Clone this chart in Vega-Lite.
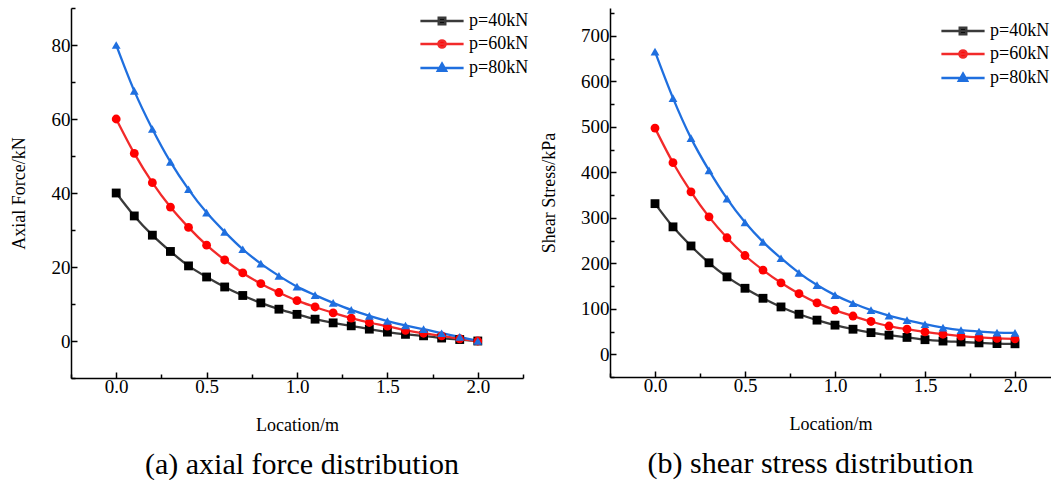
{
  "$schema": "https://vega.github.io/schema/vega-lite/v6.json",
  "padding": {"left": 10, "top": 7, "right": 0, "bottom": 0},
  "background": "white",
  "config": {
    "font": "Liberation Serif",
    "view": {"stroke": null},
    "axis": {"grid": false, "domainColor": "black", "domainWidth": 1.5, "tickColor": "black", "tickWidth": 1.5, "labelColor": "black", "titleColor": "black", "labelFont": "Liberation Serif", "titleFont": "Liberation Serif", "titleFontSize": 18, "titleFontWeight": "normal", "labelOverlap": false, "labelFlush": false, "labelPadding": 7},
    "legend": {"labelFontSize": 18, "labelFont": "Liberation Serif", "labelColor": "black", "title": null},
    "title": {"font": "Liberation Serif"}
  },
  "datasets": {
    "axial": [
      {"x":0,"p":"p=40kN","v":40},{"x":0.1,"p":"p=40kN","v":33.8},{"x":0.2,"p":"p=40kN","v":28.6},{"x":0.3,"p":"p=40kN","v":24.2},{"x":0.4,"p":"p=40kN","v":20.3},{"x":0.5,"p":"p=40kN","v":17.3},{"x":0.6,"p":"p=40kN","v":14.6},{"x":0.7,"p":"p=40kN","v":12.3},{"x":0.8,"p":"p=40kN","v":10.3},{"x":0.9,"p":"p=40kN","v":8.6},{"x":1.0,"p":"p=40kN","v":7.2},{"x":1.1,"p":"p=40kN","v":5.9},{"x":1.2,"p":"p=40kN","v":4.9},{"x":1.3,"p":"p=40kN","v":4.1},{"x":1.4,"p":"p=40kN","v":3.2},{"x":1.5,"p":"p=40kN","v":2.4},{"x":1.6,"p":"p=40kN","v":1.8},{"x":1.7,"p":"p=40kN","v":1.4},{"x":1.8,"p":"p=40kN","v":0.8},{"x":1.9,"p":"p=40kN","v":0.4},{"x":2.0,"p":"p=40kN","v":0},
      {"x":0,"p":"p=60kN","v":60},{"x":0.1,"p":"p=60kN","v":50.7},{"x":0.2,"p":"p=60kN","v":42.8},{"x":0.3,"p":"p=60kN","v":36.2},{"x":0.4,"p":"p=60kN","v":30.7},{"x":0.5,"p":"p=60kN","v":25.9},{"x":0.6,"p":"p=60kN","v":21.9},{"x":0.7,"p":"p=60kN","v":18.4},{"x":0.8,"p":"p=60kN","v":15.5},{"x":0.9,"p":"p=60kN","v":13.1},{"x":1.0,"p":"p=60kN","v":10.9},{"x":1.1,"p":"p=60kN","v":9.2},{"x":1.2,"p":"p=60kN","v":7.6},{"x":1.3,"p":"p=60kN","v":6.2},{"x":1.4,"p":"p=60kN","v":5.0},{"x":1.5,"p":"p=60kN","v":4.0},{"x":1.6,"p":"p=60kN","v":2.9},{"x":1.7,"p":"p=60kN","v":2.1},{"x":1.8,"p":"p=60kN","v":1.4},{"x":1.9,"p":"p=60kN","v":0.6},{"x":2.0,"p":"p=60kN","v":0},
      {"x":0,"p":"p=80kN","v":80},{"x":0.1,"p":"p=80kN","v":67.6},{"x":0.2,"p":"p=80kN","v":57.3},{"x":0.3,"p":"p=80kN","v":48.4},{"x":0.4,"p":"p=80kN","v":41.0},{"x":0.5,"p":"p=80kN","v":34.7},{"x":0.6,"p":"p=80kN","v":29.5},{"x":0.7,"p":"p=80kN","v":24.8},{"x":0.8,"p":"p=80kN","v":20.9},{"x":0.9,"p":"p=80kN","v":17.6},{"x":1.0,"p":"p=80kN","v":14.7},{"x":1.1,"p":"p=80kN","v":12.4},{"x":1.2,"p":"p=80kN","v":10.3},{"x":1.3,"p":"p=80kN","v":8.4},{"x":1.4,"p":"p=80kN","v":6.8},{"x":1.5,"p":"p=80kN","v":5.4},{"x":1.6,"p":"p=80kN","v":4.2},{"x":1.7,"p":"p=80kN","v":3.2},{"x":1.8,"p":"p=80kN","v":2.1},{"x":1.9,"p":"p=80kN","v":1.1},{"x":2.0,"p":"p=80kN","v":0}
    ],
    "shear": [
      {"x":0,"p":"p=40kN","v":331},{"x":0.1,"p":"p=40kN","v":280},{"x":0.2,"p":"p=40kN","v":238},{"x":0.3,"p":"p=40kN","v":201},{"x":0.4,"p":"p=40kN","v":170},{"x":0.5,"p":"p=40kN","v":145},{"x":0.6,"p":"p=40kN","v":123},{"x":0.7,"p":"p=40kN","v":104},{"x":0.8,"p":"p=40kN","v":88},{"x":0.9,"p":"p=40kN","v":75},{"x":1.0,"p":"p=40kN","v":64},{"x":1.1,"p":"p=40kN","v":55},{"x":1.2,"p":"p=40kN","v":47.5},{"x":1.3,"p":"p=40kN","v":42},{"x":1.4,"p":"p=40kN","v":37},{"x":1.5,"p":"p=40kN","v":32},{"x":1.6,"p":"p=40kN","v":29},{"x":1.7,"p":"p=40kN","v":27},{"x":1.8,"p":"p=40kN","v":25},{"x":1.9,"p":"p=40kN","v":23.5},{"x":2.0,"p":"p=40kN","v":23},
      {"x":0,"p":"p=60kN","v":497},{"x":0.1,"p":"p=60kN","v":421},{"x":0.2,"p":"p=60kN","v":357},{"x":0.3,"p":"p=60kN","v":302},{"x":0.4,"p":"p=60kN","v":256},{"x":0.5,"p":"p=60kN","v":217},{"x":0.6,"p":"p=60kN","v":185},{"x":0.7,"p":"p=60kN","v":157},{"x":0.8,"p":"p=60kN","v":133},{"x":0.9,"p":"p=60kN","v":113},{"x":1.0,"p":"p=60kN","v":97},{"x":1.1,"p":"p=60kN","v":84},{"x":1.2,"p":"p=60kN","v":72},{"x":1.3,"p":"p=60kN","v":62},{"x":1.4,"p":"p=60kN","v":55},{"x":1.5,"p":"p=60kN","v":49},{"x":1.6,"p":"p=60kN","v":44},{"x":1.7,"p":"p=60kN","v":40},{"x":1.8,"p":"p=60kN","v":37},{"x":1.9,"p":"p=60kN","v":35},{"x":2.0,"p":"p=60kN","v":34},
      {"x":0,"p":"p=80kN","v":665},{"x":0.1,"p":"p=80kN","v":563},{"x":0.2,"p":"p=80kN","v":475},{"x":0.3,"p":"p=80kN","v":404},{"x":0.4,"p":"p=80kN","v":342},{"x":0.5,"p":"p=80kN","v":290},{"x":0.6,"p":"p=80kN","v":247},{"x":0.7,"p":"p=80kN","v":211},{"x":0.8,"p":"p=80kN","v":179},{"x":0.9,"p":"p=80kN","v":152},{"x":1.0,"p":"p=80kN","v":130},{"x":1.1,"p":"p=80kN","v":112},{"x":1.2,"p":"p=80kN","v":97},{"x":1.3,"p":"p=80kN","v":85},{"x":1.4,"p":"p=80kN","v":75},{"x":1.5,"p":"p=80kN","v":66},{"x":1.6,"p":"p=80kN","v":58.5},{"x":1.7,"p":"p=80kN","v":53},{"x":1.8,"p":"p=80kN","v":50},{"x":1.9,"p":"p=80kN","v":47.5},{"x":2.0,"p":"p=80kN","v":47}
    ]
  },
  "resolve": {"scale": {"stroke": "independent", "fill": "independent", "shape": "independent"}, "legend": {"stroke": "independent", "fill": "independent", "shape": "independent"}},
  "spacing": 11,
  "hconcat": [
    {
      "width": 452, "height": 370,
      "data": {"name": "axial"},
      "title": {"text": "(a) axial force distribution", "orient": "bottom", "fontSize": 30, "fontWeight": "normal", "color": "black", "offset": 16, "dx": 5},
      "resolve": {"scale": {"stroke": "independent", "fill": "independent", "shape": "independent"}, "legend": {"stroke": "independent", "fill": "independent", "shape": "independent"}},
      "encoding": {
        "x": {"field": "x", "type": "quantitative", "scale": {"domain": [-0.25, 2.25], "nice": false, "zero": false},
          "axis": {"title": "Location/m", "titlePadding": 20, "labelPadding": 5, "values": [-0.25,0,0.25,0.5,0.75,1,1.25,1.5,1.75,2,2.25],
            "labelExpr": "abs(datum.value*2 - round(datum.value*2)) < 0.001 ? format(datum.value, '.1f') : ''",
            "labelFontSize": {"condition": {"test": "abs(datum.value*2 - round(datum.value*2)) < 0.001", "value": 19}, "value": 0},
            "tickSize": {"condition": {"test": "abs(datum.value*2 - round(datum.value*2)) < 0.001", "value": -6}, "value": -4}}},
        "y": {"field": "v", "type": "quantitative", "scale": {"domain": [-10, 90], "nice": false, "zero": false},
          "axis": {"title": "Axial Force/kN", "titlePadding": 22.5, "values": [-10,0,10,20,30,40,50,60,70,80,90],
            "labelExpr": "datum.value % 20 == 0 ? format(datum.value, 'd') : ''",
            "labelFontSize": {"condition": {"test": "datum.value % 20 == 0", "value": 19}, "value": 0},
            "tickSize": {"condition": {"test": "datum.value % 20 == 0", "value": -6}, "value": -4}}}
      },
      "layer": [
        {"mark": {"type": "line", "interpolate": "monotone", "strokeWidth": 2.3},
         "encoding": {"stroke": {"field": "p", "type": "nominal",
           "scale": {"domain": ["p=40kN", "p=60kN", "p=80kN"], "range": ["#3a3a3a", "#f22a2a", "#1f6fdf"]}, "legend": null}}},
        {"mark": {"type": "point", "filled": true, "size": 78, "opacity": 1},
         "encoding": {
           "fill": {"field": "p", "type": "nominal", "scale": {"range": ["#000000", "#ff0000", "#1f6fdf"]}, "legend": null},
           "shape": {"field": "p", "type": "nominal", "scale": {"range": ["square", "circle", "triangle-up"]}, "legend": null}}},
        {"mark": {"type": "point", "filled": true, "opacity": 0},
         "encoding": {
           "stroke": {"field": "p", "type": "nominal", "scale": {"range": ["#3a3a3a", "#f22a2a", "#1f6fdf"]},
             "legend": {"orient": "none", "legendX": 362, "legendY": 4, "symbolSize": 81, "symbolStrokeWidth": 2.5, "symbolOpacity": 1, "labelOffset": 18, "rowPadding": 5}},
           "fill": {"field": "p", "type": "nominal", "scale": {"range": ["#000000", "#ff0000", "#1f6fdf"]},
             "legend": {"orient": "none", "legendX": 362, "legendY": 4, "symbolSize": 81, "symbolStrokeWidth": 2.5, "symbolOpacity": 1, "labelOffset": 18, "rowPadding": 5}},
           "shape": {"field": "p", "type": "nominal", "scale": {"range": ["M-4.8,0H4.8M-0.72,-0.72H0.72V0.72H-0.72Z", "M-4.8,0H4.8M-0.8,0A0.8,0.8 0 1,0 0.8,0A0.8,0.8 0 1,0 -0.8,0Z", "M-4.8,0H4.8M0,-0.95L0.9,0.6L-0.9,0.6Z"]},
             "legend": {"orient": "none", "legendX": 362, "legendY": 4, "symbolSize": 81, "symbolStrokeWidth": 2.5, "symbolOpacity": 1, "labelOffset": 18, "rowPadding": 5}}}}
      ]
    },
    {
      "width": 441, "height": 369,
      "data": {"name": "shear"},
      "title": {"text": "(b) shear stress distribution", "orient": "bottom", "fontSize": 30, "fontWeight": "normal", "color": "black", "offset": 16, "dx": -20},
      "resolve": {"scale": {"stroke": "independent", "fill": "independent", "shape": "independent"}, "legend": {"stroke": "independent", "fill": "independent", "shape": "independent"}},
      "encoding": {
        "x": {"field": "x", "type": "quantitative", "scale": {"domain": [-0.25, 2.2], "nice": false, "zero": false},
          "axis": {"title": "Location/m", "titlePadding": 20, "labelPadding": 5, "values": [-0.25,0,0.25,0.5,0.75,1,1.25,1.5,1.75,2],
            "labelExpr": "abs(datum.value*2 - round(datum.value*2)) < 0.001 ? format(datum.value, '.1f') : ''",
            "labelFontSize": {"condition": {"test": "abs(datum.value*2 - round(datum.value*2)) < 0.001", "value": 19}, "value": 0},
            "tickSize": {"condition": {"test": "abs(datum.value*2 - round(datum.value*2)) < 0.001", "value": -6}, "value": -4}}},
        "y": {"field": "v", "type": "quantitative", "scale": {"domain": [-50, 761], "nice": false, "zero": false},
          "axis": {"title": "Shear Stress/kPa", "titlePadding": 22.5, "values": [-50,0,50,100,150,200,250,300,350,400,450,500,550,600,650,700,750],
            "labelExpr": "datum.value % 100 == 0 ? format(datum.value, 'd') : ''",
            "labelFontSize": {"condition": {"test": "datum.value % 100 == 0", "value": 19}, "value": 0},
            "tickSize": {"condition": {"test": "datum.value % 100 == 0", "value": -6}, "value": -4}}}
      },
      "layer": [
        {"mark": {"type": "line", "interpolate": "monotone", "strokeWidth": 2.3},
         "encoding": {"stroke": {"field": "p", "type": "nominal",
           "scale": {"domain": ["p=40kN", "p=60kN", "p=80kN"], "range": ["#3a3a3a", "#f22a2a", "#1f6fdf"]}, "legend": null}}},
        {"mark": {"type": "point", "filled": true, "size": 78, "opacity": 1},
         "encoding": {
           "fill": {"field": "p", "type": "nominal", "scale": {"range": ["#000000", "#ff0000", "#1f6fdf"]}, "legend": null},
           "shape": {"field": "p", "type": "nominal", "scale": {"range": ["square", "circle", "triangle-up"]}, "legend": null}}},
        {"mark": {"type": "point", "filled": true, "opacity": 0},
         "encoding": {
           "stroke": {"field": "p", "type": "nominal", "scale": {"range": ["#3a3a3a", "#f22a2a", "#1f6fdf"]},
             "legend": {"orient": "none", "legendX": 344, "legendY": 14, "symbolSize": 81, "symbolStrokeWidth": 2.5, "symbolOpacity": 1, "labelOffset": 18, "rowPadding": 5}},
           "fill": {"field": "p", "type": "nominal", "scale": {"range": ["#000000", "#ff0000", "#1f6fdf"]},
             "legend": {"orient": "none", "legendX": 344, "legendY": 14, "symbolSize": 81, "symbolStrokeWidth": 2.5, "symbolOpacity": 1, "labelOffset": 18, "rowPadding": 5}},
           "shape": {"field": "p", "type": "nominal", "scale": {"range": ["M-4.8,0H4.8M-0.72,-0.72H0.72V0.72H-0.72Z", "M-4.8,0H4.8M-0.8,0A0.8,0.8 0 1,0 0.8,0A0.8,0.8 0 1,0 -0.8,0Z", "M-4.8,0H4.8M0,-0.95L0.9,0.6L-0.9,0.6Z"]},
             "legend": {"orient": "none", "legendX": 344, "legendY": 14, "symbolSize": 81, "symbolStrokeWidth": 2.5, "symbolOpacity": 1, "labelOffset": 18, "rowPadding": 5}}}}
      ]
    }
  ]
}
